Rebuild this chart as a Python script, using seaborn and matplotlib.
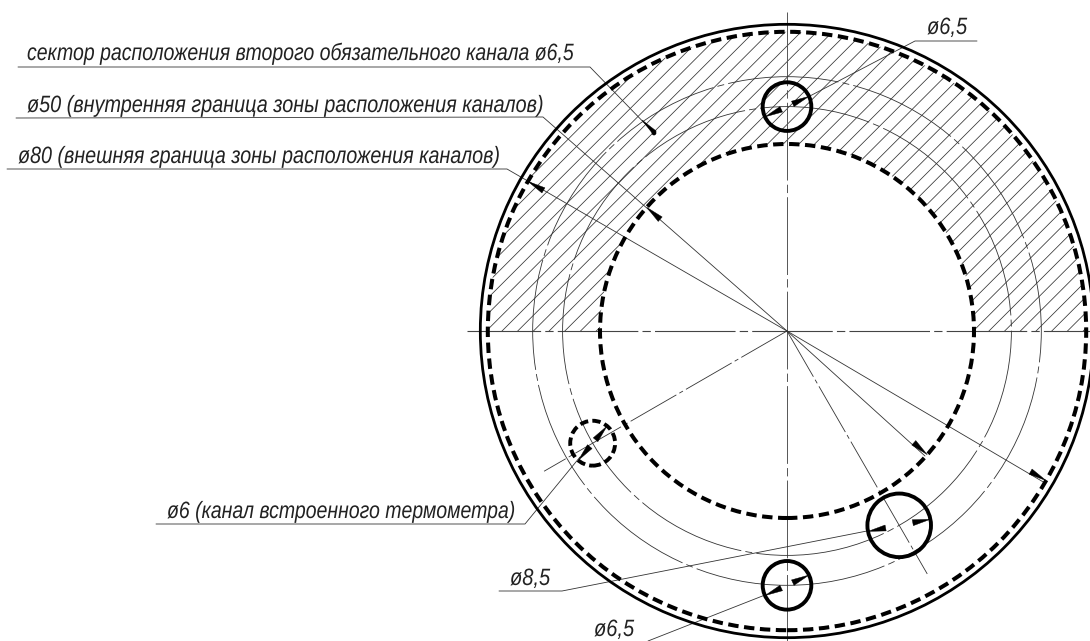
import numpy as np
import pandas as pd
import matplotlib
matplotlib.use("Agg")
import matplotlib.pyplot as plt
from matplotlib.patches import Circle, Wedge, Polygon
from matplotlib.patheffects import AbstractPathEffect
from matplotlib.transforms import Affine2D
import seaborn as sns

# drawing is in mm, the picture is 7.48 px per mm with the centre at (787, 331)
SCALE = 7.48
CX, CY = 787, 331

outer_r = 41
zone_outer_r = 40
zone_inner_r = 25
axis_radii = [30, 34]

# holes: radius of position, angle, diameter
hole_pos = [30, 34, 30, 30]
hole_ang = [90, -90, -60, -150]
hole_dia = [6.5, 6.5, 8.5, 6.0]
hole_dim_ang = [25, 25, 11, 50]
hole_dashed = [False, False, False, True]

hatch_offsets = [24.9, 27.0, 29.1, 31.2, 33.3, 35.4, 37.5, 39.6, 41.7, 43.8, 45.9, 48.0, 50.1, 52.2, 54.3,
                 22.8, 20.7, 18.6, 16.5, 14.4, 12.3, 10.2, 8.1, 6.0, 3.9, 1.8, -0.3, -2.4, -4.5, -6.6, -8.7,
                 -10.8, -12.9, -15.0, -17.1, -19.2, -21.3, -23.4, -25.5, -27.6, -29.7, -31.8, -33.9, -36.0,
                 -38.1, -40.2, -42.3, -44.4, -46.5, -48.6, -50.7, -52.8, -54.9, 56.4]

# leader lines, in pixels
sector_leader = [(18, 67), (590, 67), (654, 133)]
top_leader = [(977, 41), (915, 41), (808, 97)]
d50_leader = [(16, 118), (543, 117), (787, 331)]
d80_leader = [(7, 169), (507, 169), (787, 331)]
d6_leader = [(156, 524), (525, 524), (580, 457)]
d85_leader = [(499, 591), (562, 591), (867, 531)]
bottom_leader = [(648, 641), (765, 595)]
d50_far = [(787, 331), (925, 456)]
d80_far = [(787, 331), (1045, 483)]
leaders = [sector_leader, top_leader, d50_leader, d80_leader, d6_leader, d85_leader, bottom_leader, d50_far, d80_far]

# dimension arrows on the big circles: radius, angle
dim_radii = [25, 25, 40, 40]
dim_angles = [138.6, -41.4, 150, -30]

# radial centre lines: from centre to radius at angle
radial_len = [37.5, 37.5]
radial_ang = [-60, -150]

labels = ["сектор расположения второго обязательного канала ø6,5",
          "ø50 (внутренняя граница зоны расположения каналов)",
          "ø80 (внешняя граница зоны расположения каналов)",
          "ø6,5",
          "ø6 (канал встроенного термометра)",
          "ø8,5",
          "ø6,5"]
label_x = [27, 27, 18, 927, 167, 510, 594]
label_y = [60, 112, 163, 34, 518, 585, 636]
label_sx = [0.825, 0.84, 0.835, 0.85, 0.825, 0.85, 0.85]

sns.set_theme(style="white")
plt.rcParams["font.family"] = ["Liberation Sans", "DejaVu Sans"]
plt.rcParams["lines.scale_dashes"] = False


class Squeeze(AbstractPathEffect):
    # the drawing font is narrow, so squeeze the glyphs sideways
    def __init__(self, sx):
        super().__init__()
        self.sx = sx

    def draw_path(self, renderer, gc, tpath, affine, rgbFace=None):
        renderer.draw_path(gc, tpath, Affine2D().scale(self.sx, 1) + affine, rgbFace)


def px(p):
    return (p[0] - CX) / SCALE, (CY - p[1]) / SCALE


def polar(r, a):
    return r * np.cos(np.radians(a)), r * np.sin(np.radians(a))


def seg(ax, pts, color="#333333", lw=0.6, ls="-"):
    df = pd.DataFrame(pts, columns=["x", "y"])
    return sns.lineplot(data=df, x="x", y="y", sort=False, estimator=None, color=color,
                        linewidth=lw, linestyle=ls, legend=False, ax=ax)


def wedge(ax, tip, angle, length=2.4, width=0.8):
    # long thin black arrowhead, tip on the circle, tail going along angle
    a = np.radians(angle)
    d = np.array([np.cos(a), np.sin(a)])
    n = np.array([-d[1], d[0]])
    tip = np.array(tip)
    base = tip + d * length
    ax.add_patch(Polygon([tip, base + n * width / 2, base - n * width / 2], closed=True,
                         fc="black", ec="black", lw=0.3, zorder=6))


fig, ax = plt.subplots(figsize=(10.9, 6.41), dpi=100)
ax.set_position([0, 0, 1, 1])

thin_ls = (0, (38, 2.5, 3, 2.5))

# hatching of the upper half ring
clip = Wedge((0, 0), zone_outer_r, 0, 180, width=zone_outer_r - zone_inner_r, transform=ax.transData,
             fc="none", ec="none")
ax.add_patch(clip)
for c in hatch_offsets:
    line = seg(ax, [(-60, -60 - c), (60, 60 - c)], color="#333333", lw=0.55).lines[-1]
    line.set_clip_path(clip)

# axes of the drawing
seg(ax, [px((787, 12)), px((787, 641))], color="#555555", lw=0.7, ls=(3, (56, 3, 6, 3)))
seg(ax, [px((467, 331)), px((1090, 331))], color="#444444", lw=0.8, ls=(5, (58, 3, 6, 3)))
for ln, an in zip(radial_len, radial_ang):
    seg(ax, [(0, 0), polar(ln, an)], color="#333333", lw=0.6, ls=thin_ls)

# channel circles
for r in axis_radii:
    ax.add_patch(Circle((0, 0), r, fc="none", ec="#333333", lw=0.6, ls=(8, (80, 3, 5, 3)), zorder=3))

# leaders
for pts in leaders:
    seg(ax, [px(p) for p in pts], color="#333333", lw=0.6)

# main outlines
ax.add_patch(Circle((0, 0), outer_r, fc="none", ec="black", lw=2.0, zorder=5))
for r in [zone_outer_r, zone_inner_r]:
    ax.add_patch(Circle((0, 0), r, fc="none", ec="black", lw=2.9, ls=(0, (7.5, 4)), zorder=5))

# holes with their diameter arrows
for pr, pa, d, da, dashed in zip(hole_pos, hole_ang, hole_dia, hole_dim_ang, hole_dashed):
    c = np.array(polar(pr, pa))
    ls = (0, (6, 3)) if dashed else "-"
    ax.add_patch(Circle(c, d / 2, fc="none", ec="black", lw=2.8, ls=ls, zorder=5))
    t = np.array(polar(d / 2, da))
    wedge(ax, c + t, da + 180)
    wedge(ax, c - t, da)

# arrows of the big diameters
for r, a in zip(dim_radii, dim_angles):
    wedge(ax, polar(r, a), a + 180)

# small mark at the end of the sector leader
tip = np.array(px(sector_leader[-1]))
wedge(ax, px((642, 120)), -45, length=2.4, width=0.6)
ax.add_patch(Circle(tip, 0.28, fc="black", ec="black", lw=0.3, zorder=6))

for s, x, y, sx in zip(labels, label_x, label_y, label_sx):
    xx, yy = px((x, y))
    ax.text(xx, yy, s, fontsize=17, style="italic", ha="left", va="baseline", color="#222222",
            path_effects=[Squeeze(sx)])

ax.set_xlim((0 - CX) / SCALE, (1090 - CX) / SCALE)
ax.set_ylim((CY - 641) / SCALE, CY / SCALE)
ax.set_xlabel("")
ax.set_ylabel("")
ax.axis("off")
fig.savefig("out.png", dpi=100, facecolor="white")
